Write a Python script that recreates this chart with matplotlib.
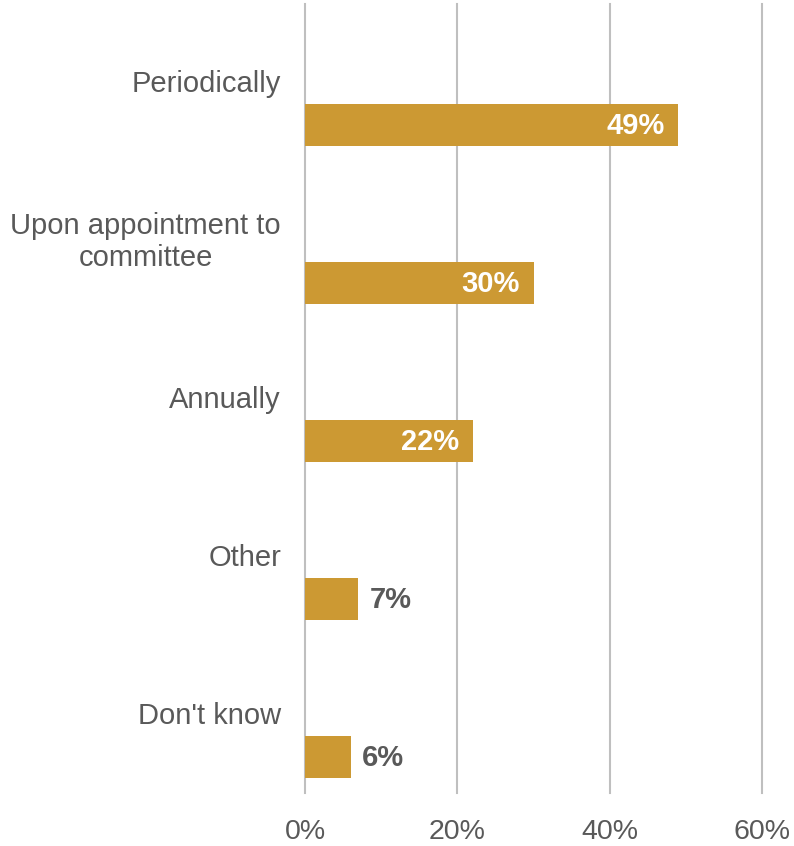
import numpy as np
import matplotlib.pyplot as plt
from matplotlib.ticker import PercentFormatter
import matplotlib.transforms as mtransforms

plt.rcParams['font.family'] = ['Liberation Sans', 'DejaVu Sans']

categories = ['Periodically', 'Upon appointment to\ncommittee', 'Annually', 'Other', "Don't know"]
values = [49, 30, 22, 7, 6]
xticks = [0, 20, 40, 60]

bar_color = '#CC9933'
text_color = '#595959'
grid_color = '#BFBFBF'

fig = plt.figure(figsize=(7.94, 8.46), dpi=100)
ax = fig.add_axes([305/794, 1 - 793/846, 457/794, 789/846])

pos = np.arange(len(categories))
ax.barh(pos, values, height=0.27, color=bar_color, zorder=3)

ax.set_xlim(0, 60)
ax.set_ylim(4.228, -0.766)
ax.set_xticks(xticks)
ax.xaxis.set_major_formatter(PercentFormatter(decimals=0))
ax.tick_params(axis='x', length=0, pad=19, labelsize=20.5, labelcolor=text_color)
ax.set_yticks([])
ax.grid(axis='x', color=grid_color, linewidth=1.5, zorder=0)
for gl in ax.get_xgridlines():
    gl.set_clip_on(False)
for s in ax.spines.values():
    s.set_visible(False)

# category names sit above each bar, right-aligned left of the axis
trans = mtransforms.blended_transform_factory(ax.transAxes, ax.transData)
for p, name in zip(pos, categories):
    ax.text(-0.0525, p - 0.26, name, transform=trans, ha='right', va='center',
            multialignment='center', linespacing=1.15, fontsize=21, color=text_color)

# value labels: inside the bar when it is long enough, else just past its end
for p, v in zip(pos, values):
    if v > 15:
        ax.annotate(f'{v}%', (v, p), xytext=(-10, -1), textcoords='offset points',
                    ha='right', va='center', fontsize=21, fontweight='bold',
                    color='white', zorder=4)
    else:
        ax.annotate(f'{v}%', (v, p), xytext=(8, -1), textcoords='offset points',
                    ha='left', va='center', fontsize=21, fontweight='bold',
                    color=text_color, zorder=4)

fig.savefig('out.png', dpi=100)
